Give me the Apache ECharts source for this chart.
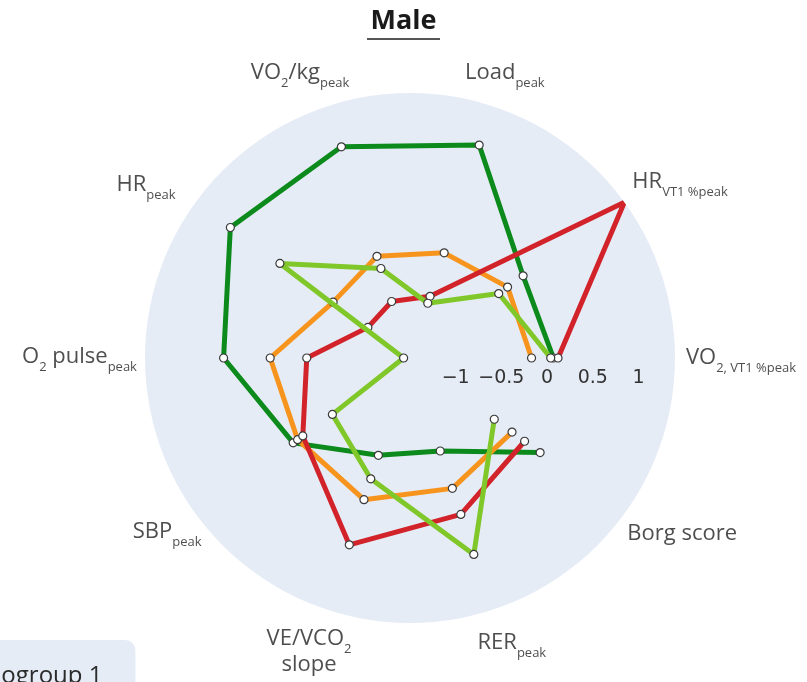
<!DOCTYPE html>
<html>
<head>
<meta charset="utf-8">
<script src="https://cdn.jsdelivr.net/npm/echarts@6/dist/echarts.min.js"></script>
<style>
  html, body { margin: 0; padding: 0; background: #ffffff; }
  #chart { width: 807px; height: 682px; }
</style>
</head>
<body>
<div id="chart"></div>
<script>
// Spokes of the radar, counter-clockwise from the right-hand axis
const categories = ['VO2, VT1 %peak', 'HR VT1 %peak', 'Load peak', 'VO2/kg peak', 'HR peak',
                    'O2 pulse peak', 'SBP peak', 'VE/VCO2 slope', 'RER peak', 'Borg score'];
// Same spokes written with subscripts (m = main text, s = subscript)
const axisLabels = [
  '{m|VO}{s|2, VT1 %peak}',
  '{m|HR}{s|VT1 %peak}',
  '{m|Load}{s|peak}',
  '{m|VO}{s|2}{m|/kg}{s|peak}',
  '{m|HR}{s|peak}',
  '{m|O}{s|2}{m| pulse}{s|peak}',
  '{m|SBP}{s|peak}',
  '{m|VE/VCO}{s|2}\n{m|slope}',
  '{m|RER}{s|peak}',
  '{m|Borg score}'
];

// Radial scale (z-scores)
const radialMin = -1.5;
const radialMax = 1.4;
const radialStep = 0.5;
const radialTicks = [-1, -0.5, 0, 0.5, 1];

// Group profiles, one value per spoke
const groupNames = ['Phenogroup 1', 'Phenogroup 2', 'Phenogroup 3', 'Phenogroup 4'];
const group1 = [0.07, 0.03, 0.95, 0.93, 0.93, 0.54, 0.08, -0.38, -0.43, 0.26];
const group2 = [-0.17, -0.18, -0.29, -0.33, -0.46, 0.03, 0.02, 0.13, 0.00, -0.12];
const group3 = [0.12, 1.40, -0.79, -0.85, -0.93, -0.37, -0.05, 0.65, 0.30, 0.05];
const group4 = [0.04, -0.30, -0.87, -0.47, 0.26, -1.43, -0.45, -0.11, 0.76, -0.36];

const groupValues = [group1, group2, group3, group4];
const groupColors = ['#0c8a1c', '#f7941d', '#d2232a', '#80c72a'];

// Placement of each spoke title relative to the rim point of its spoke
const labelPlacement = [
  { align: 'left',   verticalAlign: 'middle', dx: 11,  dy: 2 },
  { align: 'left',   verticalAlign: 'middle', dx: 8,   dy: -18 },
  { align: 'center', verticalAlign: 'middle', dx: 13,  dy: -31 },
  { align: 'center', verticalAlign: 'middle', dx: -28, dy: -31 },
  { align: 'right',  verticalAlign: 'middle', dx: -20, dy: -15 },
  { align: 'right',  verticalAlign: 'middle', dx: -8,  dy: 1 },
  { align: 'right',  verticalAlign: 'middle', dx: 6,   dy: 20 },
  { align: 'center', verticalAlign: 'top',    dx: -19, dy: 18 },
  { align: 'center', verticalAlign: 'middle', dx: 20,  dy: 35 },
  { align: 'left',   verticalAlign: 'middle', dx: 3,   dy: 22 }
];

const FONT = 'Open Sans';
const TEXT_COLOR = '#222222';
const richStyles = {
  m: { fontSize: 22, fontFamily: FONT, color: TEXT_COLOR, lineHeight: 26, verticalAlign: 'top' },
  s: { fontSize: 13, fontFamily: FONT, color: TEXT_COLOR, lineHeight: 14, padding: [15, 0, 0, 0], verticalAlign: 'top' }
};

const fmtTick = v => {
  const hit = radialTicks.some(t => Math.abs(t - v) < 1e-9);
  if (!hit) return '';
  return String(v).replace('-', '\u2212');
};

const lineSeries = groupValues.map((vals, i) => ({
  name: groupNames[i],
  type: 'line',
  coordinateSystem: 'polar',
  data: vals,
  symbol: 'circle',
  symbolSize: 8,
  showAllSymbol: true,
  color: groupColors[i],
  lineStyle: { width: 5, color: groupColors[i] },
  itemStyle: { color: '#ffffff', borderColor: '#3a3a3a', borderWidth: 1.2 },
  emphasis: { disabled: true },
  z: 3 + i
}));

const spokeTitles = {
  type: 'scatter',
  coordinateSystem: 'polar',
  silent: true,
  symbolSize: 0.1,
  itemStyle: { color: 'rgba(0,0,0,0)' },
  data: categories.map((c, i) => ({
    value: [radialMax, i],
    label: {
      show: true,
      formatter: axisLabels[i],
      position: [labelPlacement[i].dx, labelPlacement[i].dy],
      align: labelPlacement[i].align,
      verticalAlign: labelPlacement[i].verticalAlign,
      rich: richStyles
    }
  })),
  z: 10
};

const chart = echarts.init(document.getElementById('chart'), null, { renderer: 'canvas' });
chart.setOption({
  animation: false,
  backgroundColor: '#ffffff',
  title: {
    left: 'center',
    top: 4,
    padding: 0,
    text: '{t|Male}\n{u| }',
    textStyle: {
      rich: {
        t: { fontSize: 27, fontWeight: 'bold', fontFamily: FONT, color: '#1a1a1a', lineHeight: 34 },
        u: { width: 73, height: 2, lineHeight: 2, fontSize: 1, backgroundColor: '#555555' }
      }
    }
  },
  legend: {
    data: groupNames,
    orient: 'vertical',
    left: -97,
    top: 640,
    height: 400,
    backgroundColor: '#e5ecf6',
    borderRadius: 10,
    padding: [24, 33, 10, 10],
    itemGap: 8,
    itemWidth: 25,
    itemHeight: 14,
    textStyle: { fontSize: 24, fontFamily: FONT, color: '#2b2b2b' }
  },
  polar: { center: [410, 358], radius: 265 },
  angleAxis: {
    type: 'category',
    data: categories,
    startAngle: 0,
    clockwise: false,
    boundaryGap: false,
    axisLine: { show: false },
    axisTick: { show: false },
    axisLabel: { show: false },
    splitLine: { show: true, lineStyle: { color: '#ffffff', width: 1 } }
  },
  radiusAxis: {
    type: 'value',
    min: radialMin,
    max: radialMax,
    interval: radialStep,
    axisLine: { show: false },
    axisTick: { show: false },
    splitLine: { show: true, lineStyle: { color: '#ffffff', width: 1 } },
    splitArea: { show: true, areaStyle: { color: ['#e5ecf6'] } },
    axisLabel: {
      margin: -11,
      verticalAlign: 'top',
      showMinLabel: false,
      showMaxLabel: false,
      formatter: fmtTick,
      fontSize: 19,
      fontFamily: 'DejaVu Sans',
      color: '#333333'
    },
    z: 2
  },
  series: lineSeries.concat([spokeTitles])
});
</script>
</body>
</html>
